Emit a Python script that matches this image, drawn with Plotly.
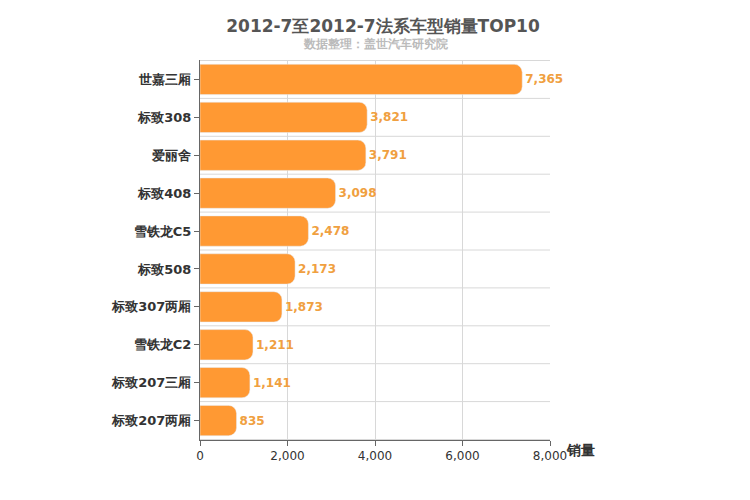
import plotly.graph_objects as go

models = ["世嘉三厢", "标致308", "爱丽舍", "标致408", "雪铁龙C5", "标致508",
          "标致307两厢", "雪铁龙C2", "标致207三厢", "标致207两厢"]
sales = [7365, 3821, 3791, 3098, 2478, 2173, 1873, 1211, 1141, 835]

fig = go.Figure(go.Bar(
    x=sales, y=models, orientation="h",
    marker=dict(color="#ff9933", cornerradius=8),
    width=0.8,
    text=[f"<b>{v:,}</b>" for v in sales], textposition="outside",
    textfont=dict(color="#f0a040", size=12, family="DejaVu Sans"),
    cliponaxis=False,
))

# horizontal separators between categories
for i in range(len(models) + 1):
    fig.add_shape(type="line", xref="x", yref="y", x0=0, x1=8000,
                  y0=i - 0.5, y1=i - 0.5, line=dict(color="#d8d8d8", width=1), layer="below")

fig.update_layout(
    width=750, height=500,
    margin=dict(l=192, r=208, t=52, b=68, autoexpand=False),
    plot_bgcolor="white", paper_bgcolor="white",
    font=dict(family="DejaVu Sans", color="#333"),
    showlegend=False,
    title=dict(text="<b>2012-7至2012-7法系车型销量TOP10</b>", x=0.5, y=0.975, xanchor="center",
               font=dict(size=17, color="#555", family="DejaVu Sans")),
    xaxis=dict(range=[0, 8000], dtick=2000, tickformat=",", showgrid=True,
               gridcolor="#d8d8d8", zeroline=False, showline=True, linecolor="#666",
               ticks="outside", tickcolor="#666", tickfont=dict(size=12, color="#333")),
    yaxis=dict(autorange="reversed", showline=True, linecolor="#666", ticks="outside",
               tickcolor="#666", tickfont=dict(size=13, color="#333"), showgrid=False),
    annotations=[
        dict(text="<b>数据整理：盖世汽车研究院</b>", xref="paper", yref="paper", x=0.5, y=1.065,
             showarrow=False, font=dict(size=12, color="#bbb")),
        dict(text="<b>销量</b>", xref="paper", yref="paper", x=1.04, y=0.0, xanchor="left",
             yanchor="top", showarrow=False, font=dict(size=14, color="#333")),
    ],
)
fig.update_yaxes(tickprefix="<b>", ticksuffix="</b>")

fig.write_html("out.html")
